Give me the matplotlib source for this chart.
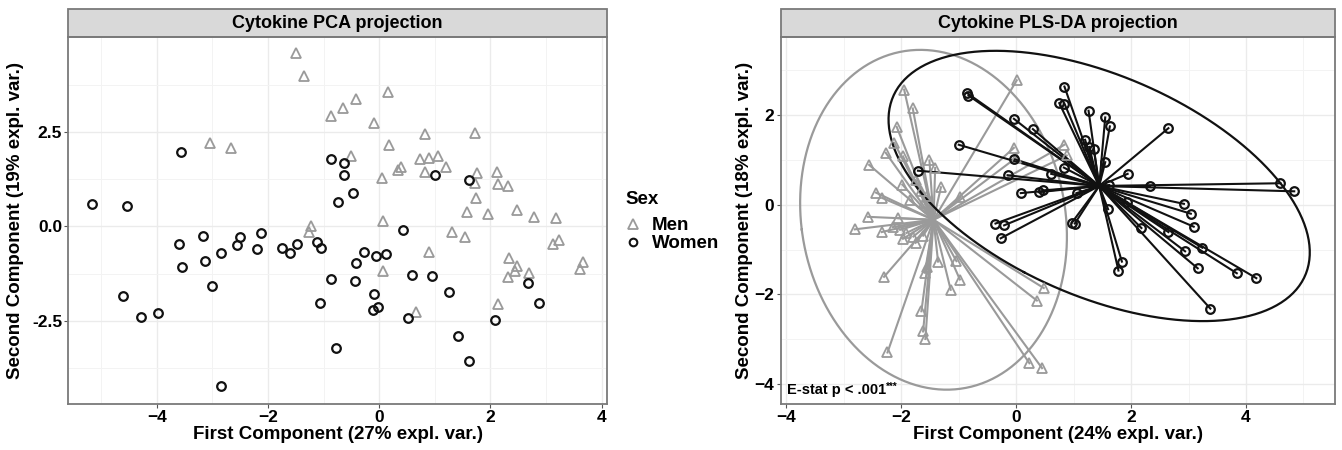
import matplotlib.pyplot as plt
import numpy as np
from matplotlib.lines import Line2D
from matplotlib.patches import Rectangle

plt.rcParams["font.family"] = ["Liberation Sans", "DejaVu Sans"]
plt.rcParams["font.weight"] = "bold"
plt.rcParams["axes.labelweight"] = "bold"

# PCA scores
pca_men_x = [-1.50, -1.35, -0.87, -0.66, -0.42, -0.50, -3.04, -2.67, -1.23, -1.26,
             0.15, -0.10, 0.82, 1.72, 0.17, 0.74, 0.90, 1.06, 0.39, 0.34,
             0.82, 1.20, 0.05, 1.75, 1.72, 2.12, 2.14, 2.31, 1.74, 1.57,
             1.96, 2.47, 2.78, 3.17, 0.07, 1.31, 1.55, 3.13, 3.24, 0.90,
             2.34, 2.47, 2.45, 2.31, 2.69, 3.67, 3.61, 0.07, 2.14, 0.67]
pca_men_y = [4.58, 3.99, 2.92, 3.14, 3.37, 1.85, 2.20, 2.07, 0.01, -0.14,
             3.55, 2.73, 2.44, 2.46, 2.16, 1.78, 1.82, 1.85, 1.58, 1.48,
             1.45, 1.57, 1.29, 1.42, 1.16, 1.45, 1.12, 1.07, 0.76, 0.37,
             0.32, 0.43, 0.25, 0.23, 0.14, -0.14, -0.27, -0.46, -0.36, -0.67,
             -0.84, -1.04, -1.17, -1.34, -1.22, -0.94, -1.13, -1.17, -2.04, -2.25]
pca_women_x = [-5.16, -4.54, -3.57, -3.60, -3.55, -3.17, -3.13, -2.85, -3.01, -2.55,
               -2.51, -2.19, -2.13, -1.74, -1.61, -1.47, -1.11, -1.04, -0.86, -0.63,
               -0.63, -0.48, -0.74, -0.41, -0.43, -0.86, -1.06, -0.78, -4.60, -4.28,
               -3.98, -2.85, 1.01, 1.61, 0.43, -0.28, -0.05, 0.12, 0.59, 0.95,
               -0.09, -0.12, -0.02, 0.52, 1.26, 2.68, 2.87, 2.08, 1.41, 1.61]
pca_women_y = [0.60, 0.54, 1.96, -0.46, -1.08, -0.24, -0.90, -0.70, -1.57, -0.48,
               -0.29, -0.60, -0.18, -0.58, -0.70, -0.47, -0.40, -0.57, 1.79, 1.67,
               1.36, 0.89, 0.64, -0.96, -1.44, -1.40, -2.03, -3.22, -1.83, -2.39,
               -2.30, -4.23, 1.35, 1.24, -0.09, -0.67, -0.77, -0.73, -1.28, -1.32,
               -1.79, -2.21, -2.12, -2.41, -1.74, -1.49, -2.02, -2.48, -2.90, -3.55]

# PLS-DA scores
pls_men_x = [0.01, -1.95, -1.80, -2.08, -2.12, -2.27, -2.56, -1.51, -1.41, -1.31,
             -1.98, -2.44, -2.33, -0.97, -0.04, 0.00, 0.84, 0.88, -2.58, -2.81,
             -2.34, -2.02, -1.91, -1.79, -1.62, -1.97, -1.75, -2.15, -2.30, -1.36,
             -1.04, -1.56, -1.59, -0.98, -1.14, -1.65, -1.62, -1.58, -2.24, 0.48,
             0.36, 0.23, 0.45, -1.75, -1.65, -1.85, -1.55, -2.05, -1.60, -1.97]
pls_men_y = [2.78, 2.57, 2.15, 1.74, 1.38, 1.16, 0.89, 0.99, 0.82, 0.39,
             0.45, 0.27, 0.15, 0.17, 1.27, 1.05, 1.34, 1.10, -0.27, -0.55,
             -0.61, -0.56, -0.63, -0.71, -0.69, -0.76, -0.85, -0.50, -1.61, -1.27,
             -1.26, -1.38, -1.52, -1.67, -1.90, -2.38, -2.83, -3.00, -3.30, -1.86,
             -2.14, -3.54, -3.65, 0.55, 0.30, 0.10, 0.20, -0.30, 0.05, 1.08]
pls_women_x = [-0.86, -0.83, -0.04, 0.29, -1.00, -0.04, -1.71, -0.15, 0.61, 0.08,
               0.39, 0.46, -0.36, -0.21, -0.27, 0.84, 0.75, 1.26, 1.55, 1.63,
               1.27, 2.65, 0.83, 1.94, 1.62, 2.33, 4.60, 4.84, 1.05, 2.92,
               3.04, 3.09, 1.60, 2.18, 2.65, 3.24, 2.94, 3.16, 3.84, 4.18,
               3.38, 1.84, 1.78, 0.97, 1.02, 1.93, 0.84, 1.35, 1.55, 1.20]
pls_women_y = [2.50, 2.44, 1.92, 1.69, 1.34, 1.02, 0.76, 0.66, 0.69, 0.26,
               0.28, 0.32, -0.42, -0.46, -0.75, 2.64, 2.27, 2.10, 1.95, 1.75,
               1.29, 1.71, 0.83, 0.69, 0.44, 0.41, 0.48, 0.30, 0.26, 0.02,
               -0.20, -0.49, -0.10, -0.52, -0.61, -0.96, -1.04, -1.42, -1.53, -1.64,
               -2.32, -1.27, -1.47, -0.40, -0.42, 0.06, 2.26, 1.25, 0.95, 1.45]

GRAY = "#9A9A9A"
BLACK = "#111111"

fig = plt.figure(figsize=(13.42, 4.5), dpi=100)
ax1 = fig.add_axes([0.0509, 0.1033, 0.4012, 0.8138])
ax2 = fig.add_axes([0.5817, 0.1033, 0.4131, 0.8138])
STRIP = 28.3 / 366.2


def style(ax, title, xlabel, ylabel, ypad):
    ax.grid(True, which="major", color="#EBEBEB", lw=1.0)
    ax.grid(True, which="minor", color="#F3F3F3", lw=0.7)
    ax.set_axisbelow(True)
    for s in ax.spines.values():
        s.set_color("#7A7A7A")
        s.set_linewidth(1.3)
    ax.tick_params(which="major", length=3, width=0.8, color="#555555",
                   labelsize=12.5, labelcolor="black", pad=1.5)
    ax.tick_params(which="minor", length=0)
    ax.add_patch(Rectangle((0, 1), 1, STRIP, transform=ax.transAxes,
                           facecolor="#D9D9D9", edgecolor="#7A7A7A", lw=1.3,
                           clip_on=False))
    ax.text(0.5, 1 + STRIP / 2, title, transform=ax.transAxes, ha="center",
            va="center", fontsize=13, fontweight="bold")
    ax.set_xlabel(xlabel, fontsize=13.5, labelpad=1)
    ax.set_ylabel(ylabel, fontsize=13.5, labelpad=ypad)


# ---- PCA panel
ax1.plot(pca_men_x, pca_men_y, ls="none", marker="^", ms=7.5, mfc="none",
         mec=GRAY, mew=1.3)
ax1.plot(pca_women_x, pca_women_y, ls="none", marker="o", ms=6.2, mfc="none",
         mec=BLACK, mew=1.6)
ax1.set_xlim(-5.59, 4.09)
ax1.set_ylim(-4.68, 5.0)
ax1.set_xticks([-4, -2, 0, 2, 4])
ax1.set_xticks([-5, -3, -1, 1, 3], minor=True)
ax1.set_yticks([-2.5, 0, 2.5])
ax1.set_yticklabels(["-2.5", "0.0", "2.5"])
ax1.set_yticks([-3.75, -1.25, 1.25, 3.75], minor=True)
style(ax1, "Cytokine PCA projection", "First Component (27% expl. var.)",
      "Second Component (19% expl. var.)", 6)

# ---- PLS-DA panel
chi = np.sqrt(-2 * np.log(0.05))
t = np.linspace(0, 2 * np.pi, 300)
groups = [(pls_men_x, pls_men_y, GRAY, "^", 7.5, 1.3),
          (pls_women_x, pls_women_y, BLACK, "o", 6.2, 1.6)]
for i, (gx, gy, col, mk, ms, mew) in enumerate(groups):
    gx = np.array(gx)
    gy = np.array(gy)
    cx, cy = gx.mean(), gy.mean()
    for x, y in zip(gx, gy):
        ax2.plot([cx, x], [cy, y], color=col, lw=1.5, zorder=2 + i)
    vals, vecs = np.linalg.eigh(np.cov(gx, gy))
    ring = vecs @ (np.sqrt(vals)[:, None] * np.vstack([np.cos(t), np.sin(t)])) * chi
    ax2.plot(cx + ring[0], cy + ring[1], color=col, lw=1.6, zorder=2 + i)
    ax2.plot(gx, gy, ls="none", marker=mk, ms=ms, mfc="none", mec=col,
             mew=mew, zorder=4 + i)
ax2.set_xlim(-4.10, 5.55)
ax2.set_ylim(-4.44, 3.74)
ax2.set_xticks([-4, -2, 0, 2, 4])
ax2.set_xticks([-3, -1, 1, 3, 5], minor=True)
ax2.set_yticks([-4, -2, 0, 2])
ax2.set_yticks([-3, -1, 1, 3], minor=True)
style(ax2, "Cytokine PLS-DA projection", "First Component (24% expl. var.)",
      "Second Component (18% expl. var.)", 1)
estat = ax2.text(0.011, 0.037, "E-stat p < .001", transform=ax2.transAxes,
                 fontsize=10.5, fontweight="bold", va="center", ha="left")
ax2.annotate("***", xy=(1.0, 0.75), xycoords=estat, fontsize=7,
             fontweight="bold", va="center", ha="left")

# legend
fig.text(625 / 1342, 1 - 200 / 450, "Sex", fontsize=13.5, fontweight="bold",
         va="center", ha="left")
handles = [Line2D([], [], ls="none", marker="^", ms=7, mfc="none", mec=GRAY, mew=1.3),
           Line2D([], [], ls="none", marker="o", ms=5.5, mfc="none", mec=BLACK, mew=1.5)]
leg = fig.legend(handles, ["Men", "Women"], loc="upper left",
                 bbox_to_anchor=(624 / 1342, 1 - 217 / 450), frameon=False,
                 prop={"weight": "bold", "size": 13.5},
                 handletextpad=0.5, labelspacing=0.05, handlelength=1.0,
                 borderpad=0, borderaxespad=0)

fig.savefig("out.png", dpi=100)
